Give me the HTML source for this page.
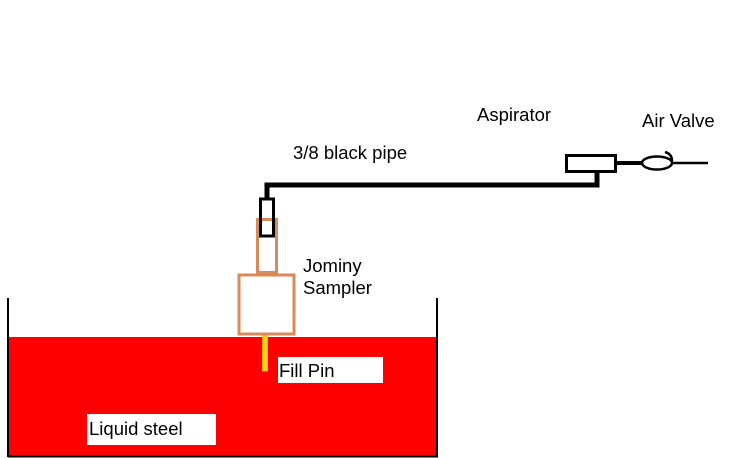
<!DOCTYPE html>
<html><head><style>
html,body{margin:0;padding:0;background:#fff;}
body{width:729px;height:458px;overflow:hidden;position:relative;font-family:"Liberation Sans",Arial,sans-serif;}
</style></head><body>
<svg width="729" height="458" xmlns="http://www.w3.org/2000/svg" style="position:absolute;left:0;top:0">
<rect x="8" y="337" width="430" height="120" fill="#ff0000"/>
<line x1="8" y1="298" x2="8" y2="457" stroke="#000" stroke-width="2"/>
<line x1="437" y1="298" x2="437" y2="457" stroke="#000" stroke-width="2"/>
<line x1="8" y1="456.5" x2="438" y2="456.5" stroke="#000" stroke-width="2"/>
<rect x="278" y="357" width="105" height="26" fill="#fff"/>
<rect x="87" y="414" width="129" height="31" fill="#fff"/>
<rect x="262.5" y="335" width="5" height="36" fill="#f5d020" stroke="#e8b400" stroke-width="1"/>
<rect x="239" y="275" width="55" height="59" fill="#fff" stroke="#d98a5a" stroke-width="3"/>
<rect x="257.5" y="219.5" width="19" height="53" fill="none" stroke="#d98a5a" stroke-width="3"/>
<rect x="260.5" y="199" width="13" height="37" fill="none" stroke="#000" stroke-width="3"/>
<polyline points="267,199 267,185 597,185 597,172" fill="none" stroke="#000" stroke-width="5"/>
<rect x="566.5" y="155.5" width="49" height="16" fill="#fff" stroke="#000" stroke-width="3"/>
<line x1="616" y1="163" x2="642" y2="163" stroke="#000" stroke-width="4"/>
<ellipse cx="657" cy="163" rx="15" ry="6.5" fill="none" stroke="#000" stroke-width="2.5"/>
<path d="M665 152 Q672 154 672 161" fill="none" stroke="#000" stroke-width="2.5"/>
<line x1="672" y1="163" x2="708" y2="163" stroke="#000" stroke-width="2.5"/>
<g font-family="Liberation Sans, Arial, sans-serif" font-size="18.5" fill="#000">
<text x="293" y="159">3/8 black pipe</text>
<text x="477" y="121">Aspirator</text>
<text x="642" y="127">Air Valve</text>
<text x="303" y="272">Jominy</text>
<text x="303" y="294">Sampler</text>
<text x="279" y="377">Fill Pin</text>
<text x="89" y="435">Liquid steel</text>
</g>
</svg>
</body></html>
